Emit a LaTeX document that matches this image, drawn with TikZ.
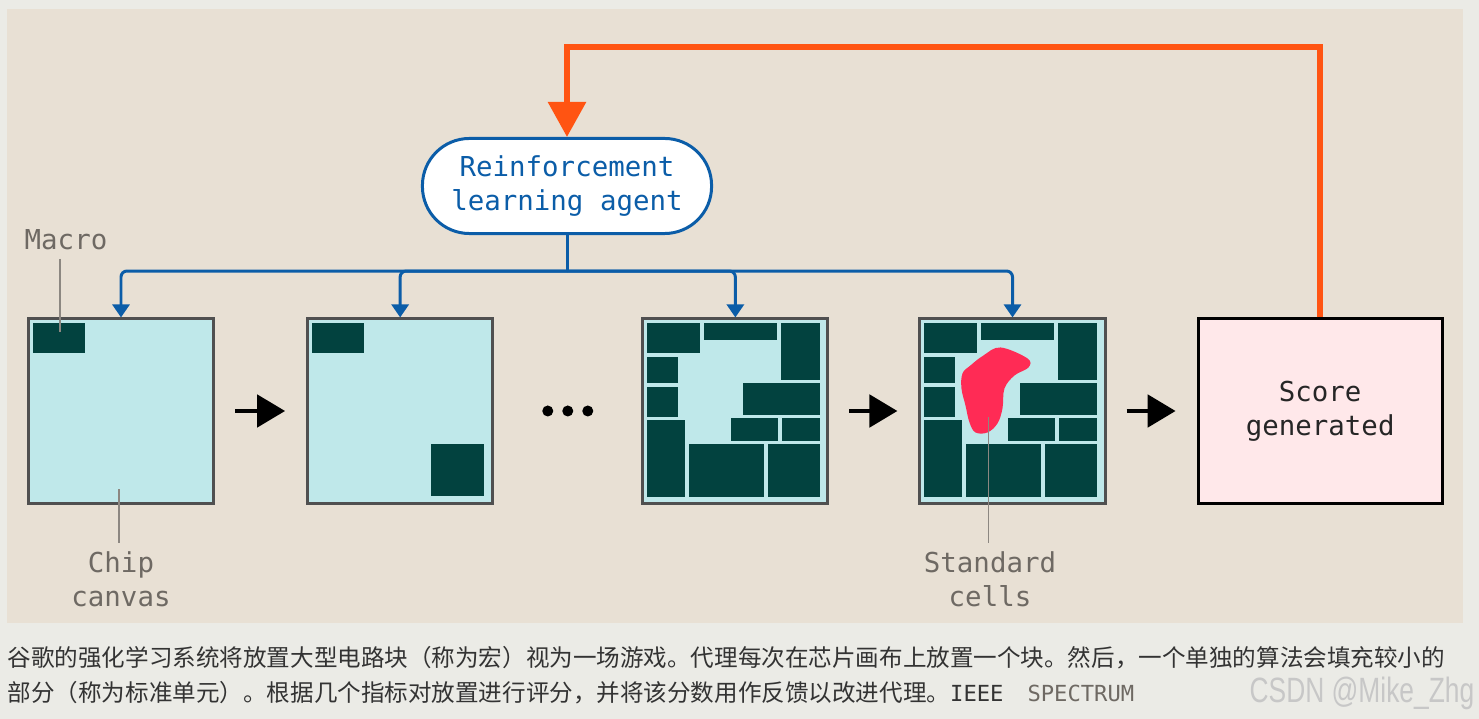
\documentclass[tikz,border=0pt]{standalone}
\usepackage{fontspec}
\setmonofont{DejaVu Sans Mono}
\newfontfamily\cjkfont{Noto Sans CJK SC}
\newfontfamily\markfont{Liberation Sans}
\usetikzlibrary{positioning,arrows.meta,calc}

\definecolor{pagegray}{HTML}{EBEBE6}
\definecolor{panel}{HTML}{E8E0D4}
\definecolor{chipfill}{HTML}{BFE8EA}
\definecolor{chipedge}{HTML}{505050}
\definecolor{macro}{HTML}{02423F}
\definecolor{agentblue}{HTML}{0B5DA8}
\definecolor{loopred}{HTML}{FF5412}
\definecolor{cellred}{HTML}{FF2B55}
\definecolor{scorepink}{HTML}{FFE8EA}
\definecolor{leadgray}{HTML}{8C8781}
\definecolor{lblgray}{HTML}{6E6963}

% the placed macros of a nearly full canvas
\newcommand{\placedblocks}{%
  \foreach \xa/\ya/\xb/\yb in {6/6/59/36, 63/6/136/23, 140/6/179/63,
      6/40/37/66, 6/70/37/100, 102/66/179/98, 90/101/137/124,
      141/101/179/124, 6/103/44/180, 48/127/123/180, 127/127/179/180}
    \fill[macro] (\xa,\ya) rectangle (\xb,\yb);}

\begin{document}
\begin{tikzpicture}[x=0.01cm,y=-0.01cm,node distance=2.79cm,on grid,
    chip/.style={draw=chipedge,line width=0.85pt,fill=chipfill,
      minimum width=18.5mm,minimum height=18.4mm,inner sep=0pt},
    mono/.style={font=\ttfamily\fontsize{7.8}{9.6}\selectfont,align=center},
    lbl/.style={mono,text=lblgray,inner sep=0.8mm},
    leader/.style={draw=leadgray,line width=0.45pt},
    tree/.style={draw=agentblue,line width=0.85pt,rounded corners=0.6mm},
    treearr/.style={tree,-{Triangle[length=1.3mm,width=1.7mm]}},
    flow/.style={line width=1.4pt,-{Triangle[length=2.8mm,width=3.2mm]},
      shorten <=2mm,shorten >=2.1mm},
    feedback/.style={draw=loopred,line width=1.7pt,
      -{Triangle[length=3.5mm,width=3.7mm]}}]
    % backgrounds
    \fill[pagegray] (0,0) rectangle (1479,719);
    \fill[panel] (7,9) rectangle (1463,623);

    \node[chip] (chipA) at (121,411) {};
    \node[chip] (chipB) [right=of chipA] {};
    \node[chip] (chipC) [right=3.35cm of chipB] {};
    \node[chip] (chipD) [right=2.77cm of chipC] {};
    \node[mono,draw=black,line width=0.85pt,fill=scorepink,text=black!85,
      minimum width=24.4mm,minimum height=18.4mm] (score)
      [right=3.075cm of chipD] {Score\\generated};
    \node[mono,draw=agentblue,line width=0.85pt,fill=white,text=agentblue,
      rounded corners=4.7mm,minimum width=28.9mm,minimum height=9.5mm]
      (agent) at (567,186) {Reinforcement\\learning agent};

    % macros on the canvases
    \begin{scope}[shift={(chipA.north west)}]
        \fill[macro] (6,6) rectangle (58,36);
        \coordinate (macroPin) at (33,15);
        \coordinate (canvasPin) at (92,172);
    \end{scope}
    \begin{scope}[shift={(chipB.north west)}]
        \fill[macro] (6,6) rectangle (58,36);
        \fill[macro] (125,127) rectangle (178,179);
    \end{scope}
    \begin{scope}[shift={(chipC.north west)}]
        \placedblocks
    \end{scope}
    \begin{scope}[shift={(chipD.north west)}]
        \placedblocks
        \fill[cellred] plot[smooth cycle,tension=0.6] coordinates {
            (82,30) (109,41) (110,50) (96,58) (86,71) (84,91) (79,106)
            (69,115) (57,115) (51,105) (47,88) (43,71) (44,56) (52,48) (65,38)};
        \coordinate (cellsPin) at (70,100);
    \end{scope}

    % labels
    \node[lbl] (macroLbl) at (66,240) {Macro};
    \node[lbl] (canvasLbl) at (121,579) {Chip\\canvas};
    \node[lbl] (cellsLbl) at (990,579) {Standard\\cells};
    \draw[leader] (macroLbl.south -| macroPin) -- (macroPin);
    \draw[leader] (canvasPin) -- (canvasLbl.north -| canvasPin);
    \draw[leader] (cellsPin) -- (cellsLbl.north -| cellsPin);

    % steps
    \draw[flow] (chipA) -- (chipB);
    \draw[flow] (chipC) -- (chipD);
    \draw[flow] (chipD) -- (score);
    \coordinate (dots) at ($(chipB.east)!0.5!(chipC.west)$);
    \foreach \dx in {-20,0,20}
        \fill ($(dots)+(\dx,0)$) circle (0.55mm);

    % agent places blocks
    \path (agent.south) ++(0,36) coordinate (hub);
    \draw[tree] (agent) -- (hub);
    \foreach \c in {chipA,chipB,chipC,chipD}
        \draw[treearr] (hub) -| (\c.north);

    % score fed back
    \coordinate (loopTop) at (0,47);
    \draw[feedback] (score.north) -- (score.north |- loopTop) -| (agent.north);

    % caption
    \node[anchor=west,inner sep=0,text=black!80,
      font=\cjkfont\fontsize{6.7}{8}\selectfont] (capOne) at (7,658)
      {谷歌的强化学习系统将放置大型电路块（称为宏）视为一场游戏。代理每次在芯片画布上放置一个块。然后，一个单独的算法会填充较小的};
    \node[anchor=west,inner sep=0,text=black!80,
      font=\cjkfont\fontsize{6.7}{8}\selectfont] (capTwo) at (7,693)
      {部分（称为标准单元）。根据几个指标对放置进行评分，并将该分数用作反馈以改进代理。{\ttfamily\fontsize{6.3}{7}\selectfont IEEE\hspace{2.4mm}\textcolor{lblgray}{SPECTRUM}}};
    \node[anchor=east,inner sep=0,text=black!22,
      font=\markfont\fontsize{10}{12}\selectfont] (mark) at (1475,693)
      {\scalebox{0.75}[1]{CSDN @Mike\_Zhg}};
\end{tikzpicture}
\end{document}
